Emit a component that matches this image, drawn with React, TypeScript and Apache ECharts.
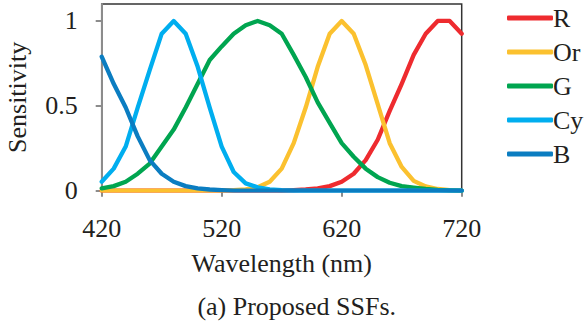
import React, { useEffect, useRef } from "react";
import * as echarts from "echarts";

const wavelengths = [420, 430, 440, 450, 460, 470, 480, 490, 500, 510, 520, 530, 540, 550, 560, 570, 580, 590, 600, 610, 620, 630, 640, 650, 660, 670, 680, 690, 700, 710, 720];
const seriesNames = ["R", "Or", "G", "Cy", "B"];
const seriesColors = ["#ee2b2f", "#fbc12f", "#00a550", "#00aeef", "#0b7dc1"];
const rValues = [0, 0, 0, 0, 0, 0, 0, 0, 0, 0, 0, 0, 0, 0, 0, 0, 0.003, 0.007, 0.014, 0.027, 0.053, 0.10, 0.18, 0.30, 0.47, 0.63, 0.80, 0.925, 1.0, 1.0, 0.925];
const orValues = [0, 0, 0, 0, 0, 0, 0, 0, 0, 0, 0, 0.003, 0.008, 0.02, 0.053, 0.13, 0.28, 0.49, 0.73, 0.925, 1.0, 0.925, 0.74, 0.51, 0.28, 0.14, 0.058, 0.025, 0.01, 0.003, 0];
const gValues = [0.014, 0.027, 0.053, 0.10, 0.16, 0.26, 0.36, 0.49, 0.63, 0.77, 0.85, 0.925, 0.975, 1.0, 0.975, 0.925, 0.80, 0.67, 0.52, 0.40, 0.28, 0.20, 0.13, 0.08, 0.047, 0.027, 0.018, 0.01, 0.005, 0.002, 0];
const cyValues = [0.053, 0.13, 0.26, 0.49, 0.71, 0.925, 1.0, 0.925, 0.73, 0.49, 0.26, 0.11, 0.043, 0.02, 0.008, 0.003, 0, 0, 0, 0, 0, 0, 0, 0, 0, 0, 0, 0, 0, 0, 0];
const bValues = [0.79, 0.63, 0.49, 0.32, 0.18, 0.10, 0.053, 0.027, 0.014, 0.007, 0.003, 0, 0, 0, 0, 0, 0, 0, 0, 0, 0, 0, 0, 0, 0, 0, 0, 0, 0, 0, 0];
const xTicks = [420, 520, 620, 720];
const yTicks = [0, 0.5, 1];
const xLabel = "Wavelength (nm)";
const yLabel = "Sensitivity";
const caption = "(a) Proposed SSFs.";

const FONT = "'Liberation Serif', 'DejaVu Serif', serif";
const TEXT = "#231f20";

export default function App() {
  const ref = useRef<HTMLDivElement>(null);
  useEffect(() => {
    if (!ref.current) return;
    const chart = echarts.init(ref.current, null, { renderer: "svg" });
    const allValues = [rValues, orValues, gValues, cyValues, bValues];
    const series = seriesNames.map((name, i) => ({
      name,
      type: "line",
      data: wavelengths.map((w, j) => [w, allValues[i][j]]),
      symbol: "none",
      smooth: false,
      lineStyle: { color: seriesColors[i], width: 4.3, cap: "round", join: "round" },
      itemStyle: { color: seriesColors[i] },
      z: 2 + i,
    }));
    chart.setOption({
      animation: false,
      backgroundColor: "#ffffff",
      textStyle: { fontFamily: FONT, color: TEXT },
      grid: {
        left: 101.7,
        right: 123.3,
        top: 4,
        bottom: 131.3,
        show: true,
        containLabel: false,
        outerBoundsMode: "none",
        borderColor: "#333333",
        borderWidth: 1.5,
        backgroundColor: "transparent",
      },
      legend: {
        orient: "vertical",
        left: 502,
        top: 0,
        icon: "roundRect",
        itemWidth: 46,
        itemHeight: 5,
        itemGap: 8,
        data: seriesNames,
        textStyle: { fontFamily: FONT, fontSize: 26, lineHeight: 24, color: TEXT, padding: [0, 0, 0, -5] },
      },
      title: {
        text: caption,
        left: 291.7,
        top: 288,
        textAlign: "center",
        textStyle: { fontFamily: FONT, fontSize: 26, fontWeight: "normal", color: TEXT },
      },
      xAxis: {
        type: "value",
        min: 420,
        max: 720,
        name: xLabel,
        nameLocation: "middle",
        nameGap: 60,
        nameTextStyle: { fontFamily: FONT, fontSize: 26, color: TEXT },
        axisLine: { show: true, lineStyle: { color: "#8c8c8c", width: 2 } },
        axisTick: { show: true, length: 6, lineStyle: { color: "#8c8c8c", width: 2 }, customValues: xTicks },
        axisLabel: { fontFamily: FONT, fontSize: 26, color: TEXT, margin: 25, customValues: xTicks },
        splitLine: { show: false },
      },
      yAxis: {
        type: "value",
        min: 0,
        max: 1.1,
        name: yLabel,
        nameLocation: "middle",
        nameGap: 71,
        nameTextStyle: { fontFamily: FONT, fontSize: 26, color: TEXT },
        axisLine: { show: true, lineStyle: { color: "#8c8c8c", width: 2 } },
        axisTick: { show: true, length: 6, lineStyle: { color: "#8c8c8c", width: 2 }, customValues: yTicks },
        axisLabel: { fontFamily: FONT, fontSize: 26, color: TEXT, margin: 24, customValues: yTicks, formatter: (v: number) => String(v) },
        splitLine: { show: false },
      },
      series,
    });
    return () => chart.dispose();
  }, []);
  return <div ref={ref} style={{ position: "fixed", left: 0, top: 0, width: 585, height: 322 }} />;
}
